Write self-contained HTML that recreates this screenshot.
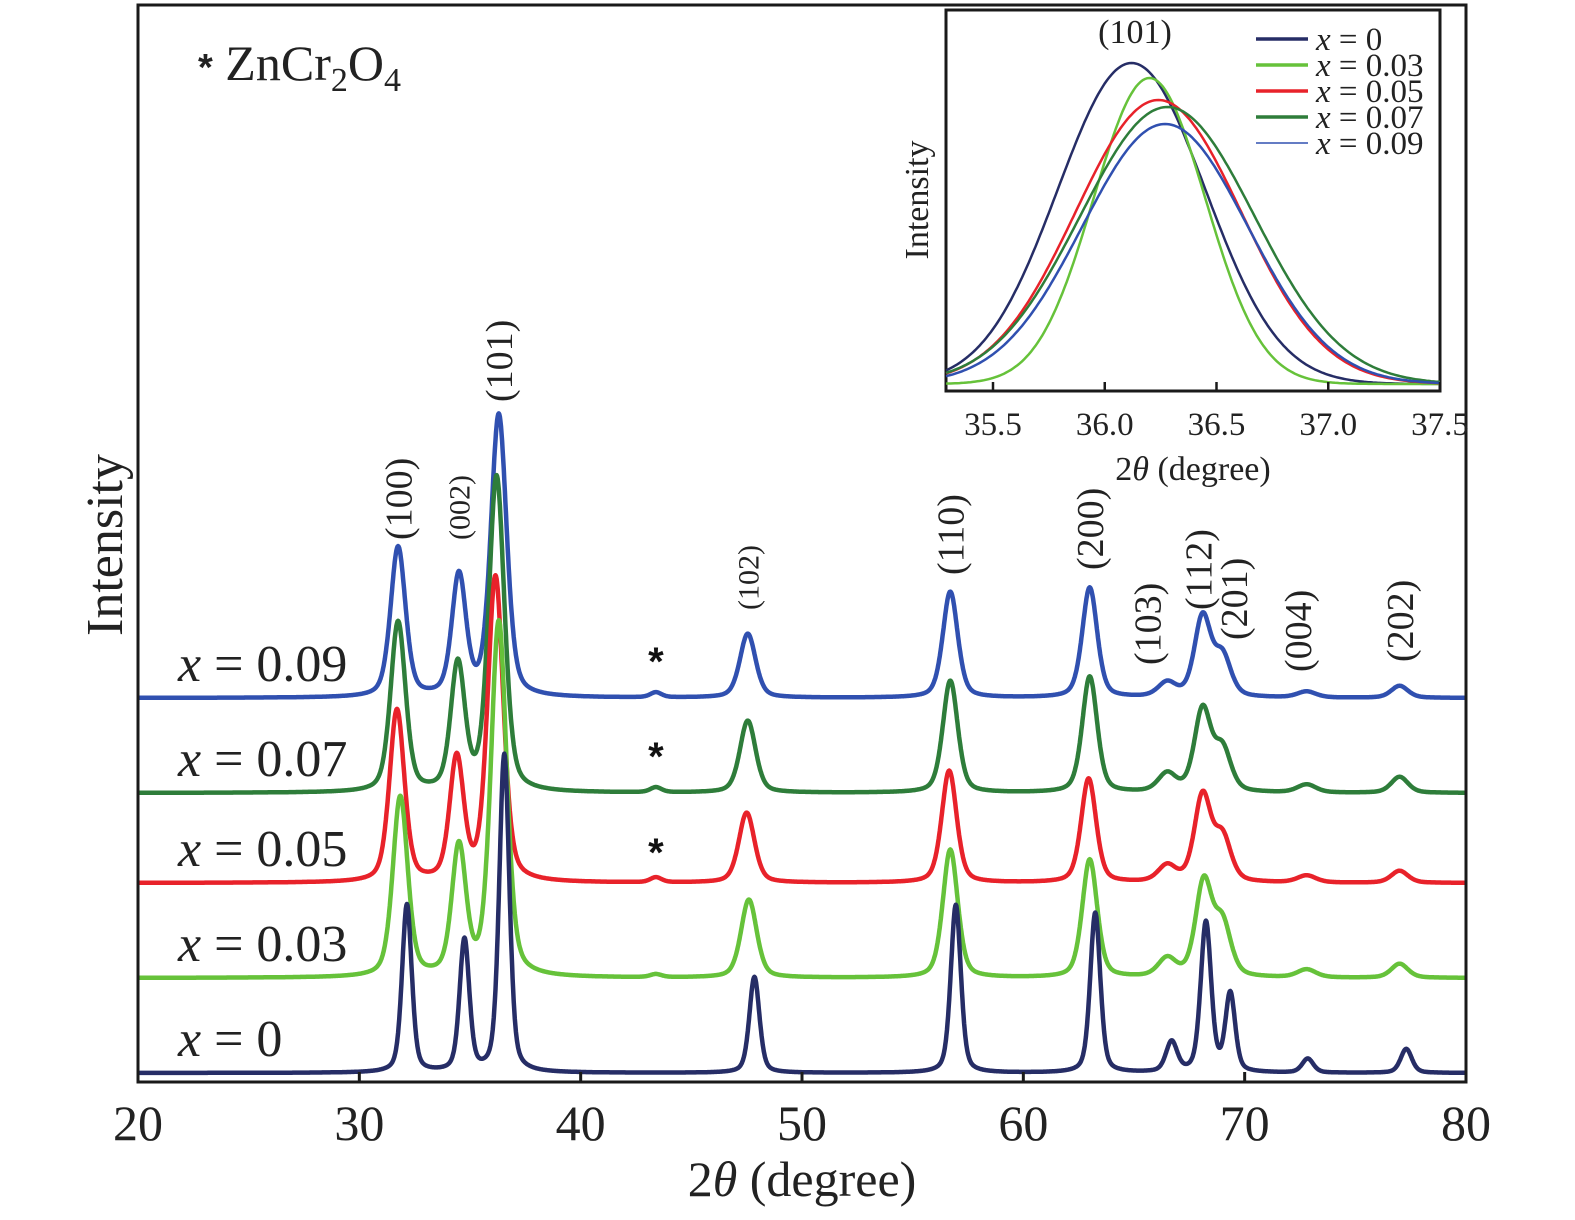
<!DOCTYPE html>
<html><head><meta charset="utf-8"><style>
html,body{margin:0;padding:0;background:#fff;overflow:hidden;width:1575px;height:1220px;}
svg{display:block;font-family:"Liberation Serif",serif;}
</style></head><body>
<svg id="chart" width="1575" height="1220" viewBox="0 0 1575 1220" xmlns="http://www.w3.org/2000/svg">
<g id="main-series"></g>
<rect x="138" y="5" width="1328" height="1077" fill="none" stroke="#1a1a1a" stroke-width="3"/>
<g id="main-ticks"></g>
<text x="802" y="1196" font-size="50" text-anchor="middle" fill="#222">2<tspan font-style="italic">θ</tspan> (degree)</text>
<text transform="translate(122,545) rotate(-90)" font-size="52" text-anchor="middle" fill="#222">Intensity</text>
<text x="198" y="80" font-size="50" fill="#222"><tspan font-family="Liberation Sans" font-weight="bold" font-size="38">*</tspan> ZnCr<tspan font-size="34" dy="11">2</tspan><tspan dy="-11">O</tspan><tspan font-size="34" dy="11">4</tspan></text>
<g id="labels"></g>
<rect x="946" y="10" width="494" height="381" fill="#fff" stroke="#1a1a1a" stroke-width="3"/>
<g id="inset"></g>
<text x="1135" y="43" font-size="34" text-anchor="middle" fill="#222">(101)</text>
<text transform="translate(928,200) rotate(-90)" font-size="34" text-anchor="middle" fill="#222">Intensity</text>
<text x="1193" y="480" font-size="34" text-anchor="middle" fill="#222">2<tspan font-style="italic">θ</tspan> (degree)</text>
</svg>
<script>
const NS='http://www.w3.org/2000/svg';
// ---- main chart data ----
const seriesNames=['x = 0.09','x = 0.07','x = 0.05','x = 0.03','x = 0'];
const seriesColors=['#3050b0','#2e7d3a','#e8222a','#66c23a','#262d66'];
const offsets=[380,285,195,100,5];
const peakNames=['(100)','(002)','(101)','(102)','(110)','(200)','(103)','(112)','(201)','(004)','(202)','*'];
const pos009=[31.75,34.5,36.3,47.55,56.7,63.0,66.5,68.1,69.0,72.8,77.0,43.4];
const pos007=[31.75,34.45,36.2,47.55,56.7,63.0,66.5,68.1,69.0,72.8,77.0,43.4];
const pos005=[31.7,34.4,36.15,47.5,56.65,62.95,66.5,68.1,69.0,72.8,77.0,43.4];
const pos003=[31.85,34.5,36.3,47.6,56.7,63.0,66.5,68.15,69.0,72.8,77.0,43.4];
const pos000=[32.15,34.75,36.55,47.85,56.95,63.25,66.7,68.25,69.35,72.85,77.3,43.4];
const h009=[150,120,282,64,106,110,14,80,40,6,12,5];
const h007=[170,126,315,72,112,116,18,82,42,8,16,5];
const h005=[172,122,305,70,112,104,16,86,44,7,12,5];
const h003=[180,128,355,78,128,118,18,94,52,8,14,3];
const h000=[168,132,318,96,168,160,30,150,78,14,24,0];
const w009=[0.40,0.38,0.42,0.42,0.40,0.40,0.48,0.44,0.45,0.5,0.45,0.3];
const w000=[0.26,0.26,0.27,0.27,0.27,0.27,0.3,0.28,0.26,0.3,0.3,0.3];
const allPos=[pos009,pos007,pos005,pos003,pos000];
const allH=[h009,h007,h005,h003,h000];
const allW=[w009,w009,w009,w009,w000];
const xTicks=[20,30,40,50,60,70,80];
// ---- inset data ----
const insetCenters=[36.12,36.2,36.24,36.28,36.27];
const insetHeights=[321,306,284,277,260];
const insetSigma=[0.33,0.25,0.37,0.39,0.37];
const insetColors=['#262d66','#66c23a','#e8222a','#2e7d3a','#3050b0'];
const insetNames=['x = 0','x = 0.03','x = 0.05','x = 0.07','x = 0.09'];
const insetTicks=[35.5,36.0,36.5,37.0,37.5];

const X=v=>138+(v-20)*1328/60;
const BASE=1078;
const Y=(v,off)=>BASE-off-v;
function prof(x,c,h,w){const d=(x-c)/w;return h*(0.6*Math.exp(-d*d*0.693)+0.4/(1+d*d));}
const mg=document.getElementById('main-series');
for(let s=0;s<seriesNames.length;s++){
  let d='';
  for(let x=20;x<=80;x+=0.025){
    let v=0;for(let k=0;k<peakNames.length;k++)v+=prof(x,allPos[s][k],allH[s][k],allW[s][k]);
    d+=(x===20?'M':'L')+X(x).toFixed(1)+','+Y(v,offsets[s]).toFixed(1);
  }
  const p=document.createElementNS(NS,'path');
  p.setAttribute('d',d);p.setAttribute('fill','none');p.setAttribute('stroke',seriesColors[s]);
  p.setAttribute('stroke-width','4.5');p.setAttribute('stroke-linejoin','round');
  
  
  mg.appendChild(p);
  const t=document.createElementNS(NS,'text');
  t.setAttribute('x',178);t.setAttribute('y',Y(0,offsets[s])-17);t.setAttribute('font-size','52');t.setAttribute('fill','#222');
  t.innerHTML='<tspan font-style="italic">x</tspan> = '+seriesNames[s].slice(4);
  
  
  mg.appendChild(t);
}
const tg=document.getElementById('main-ticks');
xTicks.forEach(v=>{
  const l=document.createElementNS(NS,'line');
  l.setAttribute('x1',X(v));l.setAttribute('x2',X(v));l.setAttribute('y1',1082);l.setAttribute('y2',1072);
  l.setAttribute('stroke','#1a1a1a');l.setAttribute('stroke-width','3');
  
  
  tg.appendChild(l);
  const t=document.createElementNS(NS,'text');
  t.setAttribute('x',X(v));t.setAttribute('y',1140);t.setAttribute('font-size','50');t.setAttribute('text-anchor','middle');t.setAttribute('fill','#222');
  t.textContent=v;
  
  
  tg.appendChild(t);
});
// peak labels (rotated)
const lg=document.getElementById('labels');
const labelSpec=[['(100)',31.75,540,38],['(002)',34.5,540,30],['(101)',36.3,402,38],['(102)',47.55,610,30],['(110)',56.7,575,38],['(200)',63.0,570,38],['(103)',65.6,665,38],['(112)',67.9,610,38],['(201)',69.5,640,38],['(004)',72.4,672,38],['(202)',77.0,662,38]];
labelSpec.forEach(s=>{
  const t=document.createElementNS(NS,'text');
  t.setAttribute('transform','translate('+(X(s[1])+s[3]*0.35)+','+s[2]+') rotate(-90)');
  t.setAttribute('font-size',s[3]);t.setAttribute('fill','#222');
  t.textContent=s[0];
  
  
  lg.appendChild(t);
});
[675,770,866].forEach(y=>{
  const t=document.createElementNS(NS,'text');
  t.setAttribute('x',X(43.4));t.setAttribute('y',y);t.setAttribute('font-size','40');t.setAttribute('text-anchor','middle');
  t.setAttribute('font-family','Liberation Sans');t.setAttribute('font-weight','bold');t.setAttribute('fill','#111');
  t.textContent='*';
  
  
  lg.appendChild(t);
});
// inset
const IX=v=>993+(v-35.5)*223.5;
const IY=v=>384-v;
const ig=document.getElementById('inset');
for(let s=0;s<insetNames.length;s++){
  let d='';
  for(let x=35.29;x<=37.5;x+=0.01){
    const dd=(x-insetCenters[s])/insetSigma[s];
    const v=insetHeights[s]*Math.exp(-dd*dd/2);
    d+=(d?'L':'M')+IX(x).toFixed(1)+','+IY(v).toFixed(1);
  }
  const p=document.createElementNS(NS,'path');
  p.setAttribute('d',d);p.setAttribute('fill','none');p.setAttribute('stroke',insetColors[s]);p.setAttribute('stroke-width','2.5');
  
  
  ig.appendChild(p);
  const ly=39+s*26;
  const l=document.createElementNS(NS,'line');
  l.setAttribute('x1',1256);l.setAttribute('x2',1308);l.setAttribute('y1',ly);l.setAttribute('y2',ly);
  l.setAttribute('stroke',insetColors[s]);l.setAttribute('stroke-width',s===4?'1.5':'3.5');
  
  
  ig.appendChild(l);
  const t=document.createElementNS(NS,'text');
  t.setAttribute('x',1316);t.setAttribute('y',ly+11);t.setAttribute('font-size','33');t.setAttribute('fill','#222');
  t.innerHTML='<tspan font-style="italic">x</tspan> = '+insetNames[s].slice(4);
  
  
  ig.appendChild(t);
}
insetTicks.forEach(v=>{
  const l=document.createElementNS(NS,'line');
  l.setAttribute('x1',IX(v));l.setAttribute('x2',IX(v));l.setAttribute('y1',391);l.setAttribute('y2',382);
  l.setAttribute('stroke','#1a1a1a');l.setAttribute('stroke-width','2.5');
  
  
  ig.appendChild(l);
  const t=document.createElementNS(NS,'text');
  t.setAttribute('x',IX(v));t.setAttribute('y',435);t.setAttribute('font-size','33');t.setAttribute('text-anchor','middle');t.setAttribute('fill','#222');
  t.textContent=v.toFixed(1);
  
  
  ig.appendChild(t);
});
</script>
</body></html>
